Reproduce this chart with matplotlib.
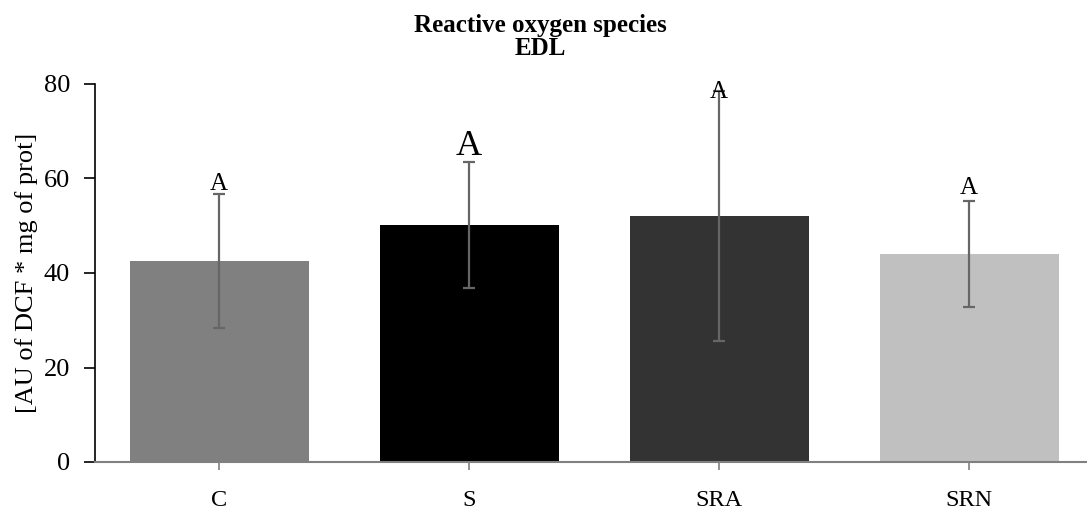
import matplotlib
matplotlib.use("Agg")
import matplotlib.pyplot as plt

categories = ["C", "S", "SRA", "SRN"]
values = [42.5, 50.2, 52.1, 44.0]
errors = [14.2, 13.3, 26.4, 11.2]
letters = ["A", "A", "A", "A"]
colors = ["#808080", "#000000", "#333333", "#c0c0c0"]

plt.rcParams['font.family'] = ['Liberation Serif', 'DejaVu Serif']

fig = plt.figure(figsize=(10.87, 5.13), dpi=100)
ax = fig.add_axes([95/1087, 1 - 462/513, (1087-95)/1087, (462-84)/513])

x = list(range(len(categories)))
ax.bar(x, values, width=0.716, color=colors, zorder=2)
ax.errorbar(x, values, yerr=errors, fmt='none', ecolor='#666666', elinewidth=1.6,
            capsize=4.5, capthick=1.6, zorder=3)

letter_y = [57.6, 65.0, 77.0, 56.7]
letter_sizes = [18, 26, 18, 18]
for xi, ly, t, fs in zip(x, letter_y, letters, letter_sizes):
    ax.text(xi, ly, t, ha='center', va='baseline', fontsize=fs, zorder=4)

ax.set_xlim(-0.496, 3.472)
ax.set_ylim(0, 80)
ax.set_yticks([0, 20, 40, 60, 80])
ax.set_xticks(x)
ax.set_xticklabels(categories)
ax.tick_params(axis='y', labelsize=19, direction='out', length=8, width=1.2, colors='black', pad=10)
ax.tick_params(axis='x', labelsize=17.5, direction='out', length=6, width=1.2, color='#808080', pad=14)
for s in ['top', 'right']:
    ax.spines[s].set_visible(False)
ax.spines['left'].set_linewidth(1.2)
ax.spines['bottom'].set_color('#808080')
ax.spines['bottom'].set_linewidth(1.5)
ax.set_ylabel("[AU of DCF * mg of prot]", fontsize=19, labelpad=4)

fig.text(540 / 1087, 1 - 37 / 513, "Reactive oxygen species\nEDL",
         ha='center', va='center', fontsize=18, fontweight='bold', linespacing=1.05)

fig.savefig("out.png", dpi=100)
